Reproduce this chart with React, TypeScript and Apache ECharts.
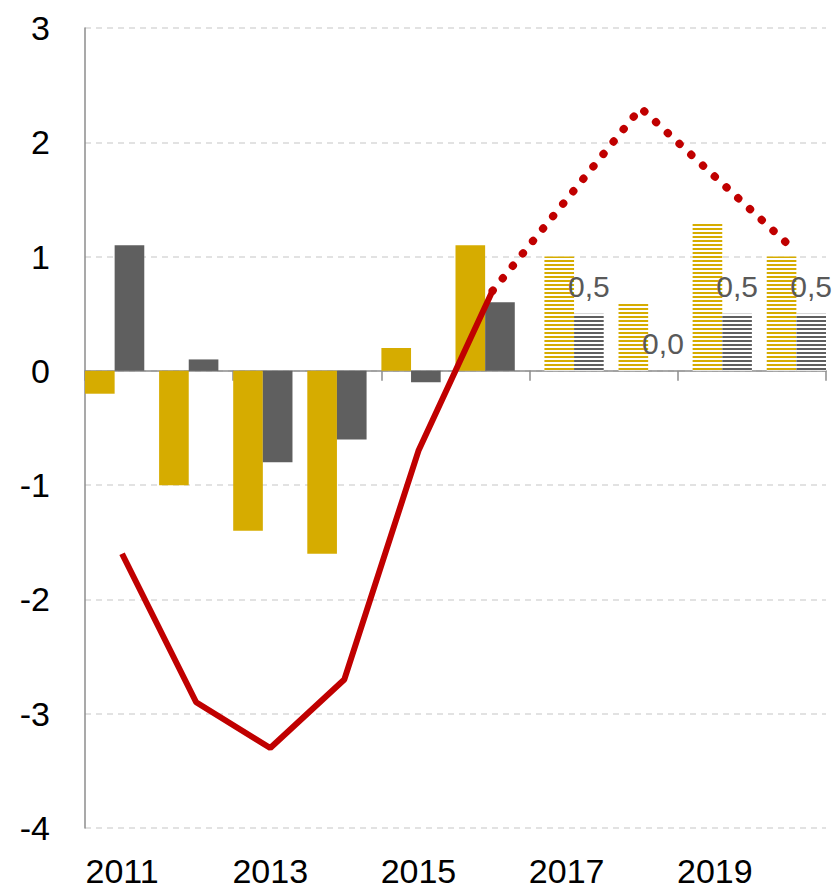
import React, { useEffect, useRef } from "react";
import * as echarts from "echarts";

const YEARS = ["2011", "2012", "2013", "2014", "2015", "2016", "2017", "2018", "2019", "2020"];
const ACTUAL_YELLOW = [-0.2, -1.0, -1.4, -1.6, 0.2, 1.1, null, null, null, null];
const ACTUAL_GRAY = [1.1, 0.1, -0.8, -0.6, -0.1, 0.6, null, null, null, null];
const FORECAST_YELLOW = [null, null, null, null, null, null, 1.0, 0.6, 1.3, 1.0];
const FORECAST_GRAY = [null, null, null, null, null, null, 0.5, 0.0, 0.5, 0.5];
const LINE_ACTUAL = [-1.6, -2.9, -3.3, -2.7, -0.7, 0.7, null, null, null, null];
const LINE_FORECAST = [null, null, null, null, null, 0.7, 1.5, 2.3, 1.7, 1.1];

const YELLOW = "#D6AC00";
const GRAY = "#5F5F5F";
const RED = "#C00000";
const FONT = "'Liberation Sans', Arial, sans-serif";

export default function App() {
  const ref = useRef<HTMLDivElement>(null);
  useEffect(() => {
    document.body.style.margin = "0";
    const chart = echarts.init(ref.current!, null, { renderer: "svg" });
    const stripe = (c: string) => ({
      color: "#ffffff",
      decal: {
        symbol: "rect",
        symbolSize: 1,
        color: c,
        dashArrayX: [4, 0],
        dashArrayY: [2, 2],
        rotation: 0,
      },
    });
    chart.setOption({
      animation: false,
      grid: { left: 85, right: 7, top: 28, bottom: 62, containLabel: false },
      xAxis: [
        {
          type: "category",
          data: YEARS,
          position: "bottom",
          axisLine: { show: false, onZero: false },
          axisTick: { show: false },
          axisLabel: { interval: 1, margin: 26, fontSize: 34, color: "#000", fontFamily: FONT },
        },
        {
          type: "category",
          data: YEARS,
          position: "bottom",
          axisLine: { show: true, onZero: true, lineStyle: { color: "#8C8C8C", width: 1.5 } },
          axisTick: { show: true, interval: 1, length: 10, lineStyle: { color: "#8C8C8C", width: 1.5 } },
          axisLabel: { show: false },
        },
      ],
      yAxis: {
        type: "value",
        min: -4,
        max: 3,
        interval: 1,
        axisLine: { show: true, onZero: false, lineStyle: { color: "#8C8C8C", width: 1.5 } },
        axisTick: { show: false },
        axisLabel: { margin: 35, fontSize: 34, color: "#000", fontFamily: FONT },
        splitLine: { show: true, lineStyle: { color: "#D9D9D9", width: 1.5, type: [6, 5] } },
      },
      series: [
        {
          type: "bar",
          data: ACTUAL_YELLOW,
          barGap: "-50%",
          barCategoryGap: "0%",
          itemStyle: { color: YELLOW },
        },
        {
          type: "bar",
          data: FORECAST_YELLOW,
          barGap: "-50%",
          barCategoryGap: "0%",
          itemStyle: stripe(YELLOW),
        },
        {
          type: "bar",
          data: ACTUAL_GRAY,
          barGap: "-50%",
          barCategoryGap: "0%",
          itemStyle: { color: GRAY },
        },
        {
          type: "bar",
          data: FORECAST_GRAY,
          barGap: "-50%",
          barCategoryGap: "0%",
          itemStyle: stripe(GRAY),
          label: {
            show: true,
            position: "top",
            distance: 12,
            fontSize: 30,
            color: "#595959",
            fontFamily: FONT,
            formatter: (p: any) => Number(p.value).toFixed(1).replace(".", ","),
          },
        },
        {
          type: "line",
          data: LINE_ACTUAL,
          symbol: "none",
          z: 5,
          lineStyle: { color: RED, width: 6 },
        },
        {
          type: "line",
          data: LINE_FORECAST,
          symbol: "none",
          z: 5,
          lineStyle: { color: RED, width: 8, type: [0.5, 15.5], cap: "round" },
        },
      ],
    });
    return () => chart.dispose();
  }, []);
  return <div ref={ref} style={{ position: "absolute", left: 0, top: 0, width: 833, height: 890 }} />;
}
